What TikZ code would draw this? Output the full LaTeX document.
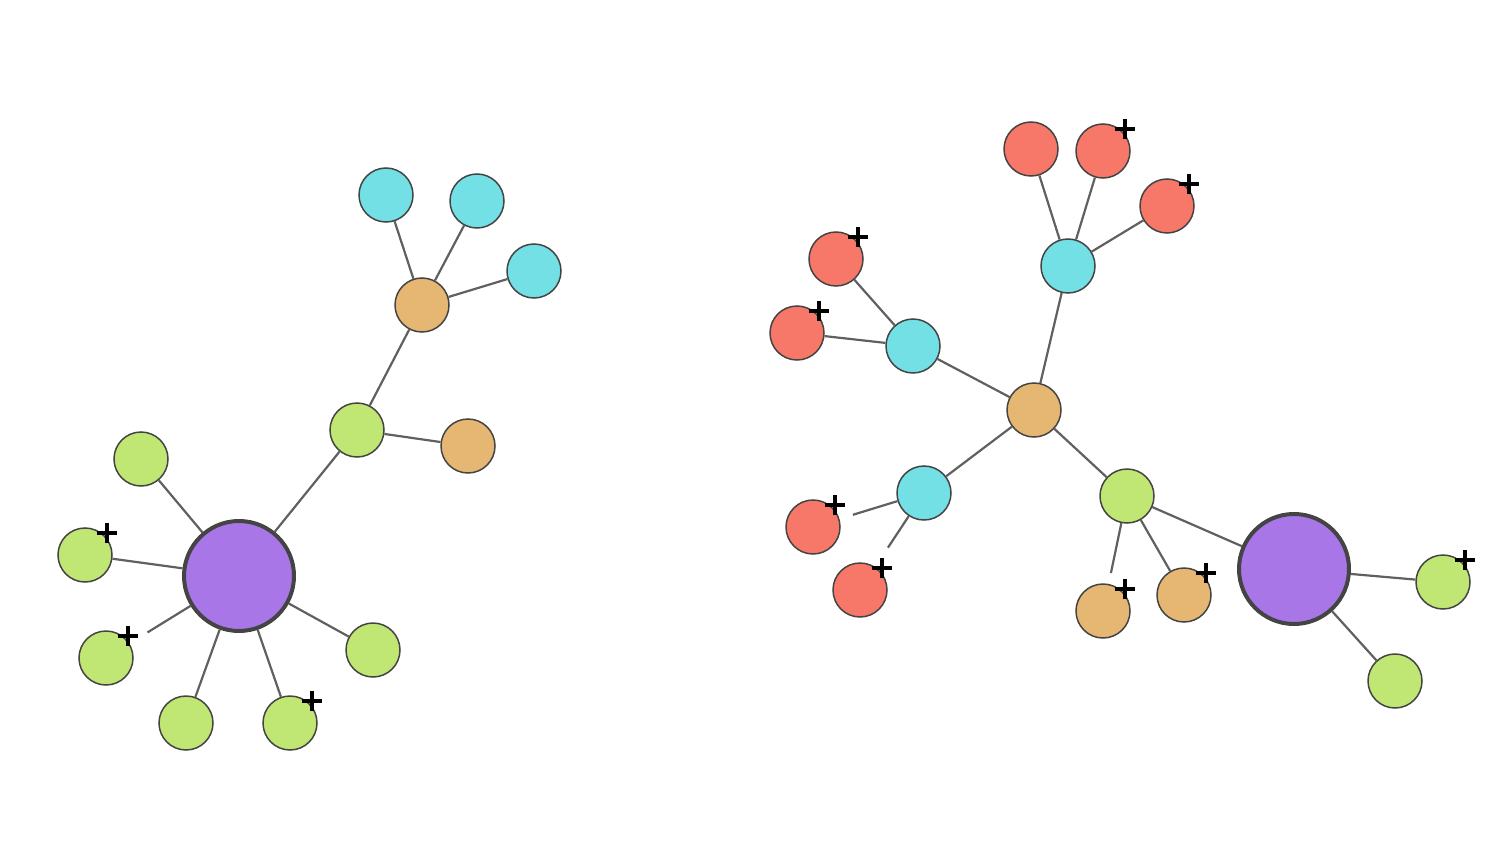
\documentclass[tikz,border=0pt]{standalone}
\usetikzlibrary{backgrounds}
\definecolor{cgreen}{HTML}{C0E673}
\definecolor{corange}{HTML}{E6B773}
\definecolor{ccyan}{HTML}{73E0E6}
\definecolor{cred}{HTML}{F77868}
\definecolor{cpurple}{HTML}{A876E6}
\definecolor{cborder}{HTML}{444444}
\definecolor{cedge}{HTML}{606060}
\tikzset{
  nd/.style={circle, draw=cborder, line width=1.5pt, minimum size=54pt, inner sep=0pt},
  gn/.style={nd, fill=cgreen},
  on/.style={nd, fill=corange},
  cn/.style={nd, fill=ccyan},
  rn/.style={nd, fill=cred},
  bign/.style={circle, draw=cborder, line width=4pt, minimum size=110pt, inner sep=0pt, fill=cpurple},
  edge/.style={draw=cedge, line width=2.2pt},
  plusmark/.style={draw=black, line width=3.6pt},
}
\newcommand{\plusat}[1]{\draw[plusmark] ([shift={(12,-22)}]#1.center) -- ([shift={(32,-22)}]#1.center);
  \draw[plusmark] ([shift={(22,-32)}]#1.center) -- ([shift={(22,-12)}]#1.center);}
\begin{document}
\begin{tikzpicture}[x=1pt,y=-1pt]
\useasboundingbox (0,0) rectangle (1500,848);
% left graph
\node[bign] (p1) at (239,576) {};
\node[gn] (g1) at (141,459) {};
\node[gn] (g2) at (85,555) {};
\node[gn] (g3) at (106,658) {};
\node[gn] (g4) at (186,723) {};
\node[gn] (g5) at (290,723) {};
\node[gn] (g6) at (373,650) {};
\node[gn] (gh) at (357,430) {};
\node[on] (o1) at (468,446) {};
\node[on] (oh) at (422,305) {};
\node[cn] (c1) at (386,195) {};
\node[cn] (c2) at (477,201) {};
\node[cn] (c3) at (534,271) {};
% right graph
\node[on] (rc) at (1034,410) {};
\node[cn] (ct) at (1068,266) {};
\node[rn] (r1) at (1031,149) {};
\node[rn] (r2) at (1103,151) {};
\node[rn] (r3) at (1167,206) {};
\node[cn] (cl) at (913,346) {};
\node[rn] (r4) at (836,259) {};
\node[rn] (r5) at (797,333) {};
\node[cn] (cb) at (924,493) {};
\node[rn] (r6) at (813,527) {};
\node[rn] (r7) at (860,590) {};
\node[gn] (gr) at (1127,496) {};
\node[on] (o2) at (1103,611) {};
\node[on] (o3) at (1184,595) {};
\node[bign] (p2) at (1294,569) {};
\node[gn] (g7) at (1443,582) {};
\node[gn] (g8) at (1395,681) {};
\begin{scope}[on background layer]
\path[edge] (p1) -- (g1);
\path[edge] (p1) -- (g2);
\path[edge, shorten >=21pt] (p1) -- (g3);
\path[edge] (p1) -- (g4);
\path[edge] (p1) -- (g5);
\path[edge] (p1) -- (g6);
\path[edge] (p1) -- (gh);
\path[edge] (gh) -- (o1);
\path[edge] (gh) -- (oh);
\path[edge] (oh) -- (c1);
\path[edge] (oh) -- (c2);
\path[edge] (oh) -- (c3);
\path[edge] (rc) -- (ct);
\path[edge] (ct) -- (r1);
\path[edge] (ct) -- (r2);
\path[edge] (ct) -- (r3);
\path[edge] (rc) -- (cl);
\path[edge] (cl) -- (r4);
\path[edge] (cl) -- (r5);
\path[edge] (rc) -- (cb);
\path[edge, shorten >=14pt] (cb) -- (r6);
\path[edge, shorten >=23pt] (cb) -- (r7);
\path[edge] (rc) -- (gr);
\path[edge, shorten >=11pt] (gr) -- (o2);
\path[edge] (gr) -- (o3);
\path[edge] (gr) -- (p2);
\path[edge] (p2) -- (g7);
\path[edge] (p2) -- (g8);
\end{scope}
\plusat{g2}
\plusat{g3}
\plusat{g5}
\plusat{r2}
\plusat{r3}
\plusat{r4}
\plusat{r5}
\plusat{r6}
\plusat{r7}
\plusat{o2}
\plusat{o3}
\plusat{g7}
\end{tikzpicture}
\end{document}
